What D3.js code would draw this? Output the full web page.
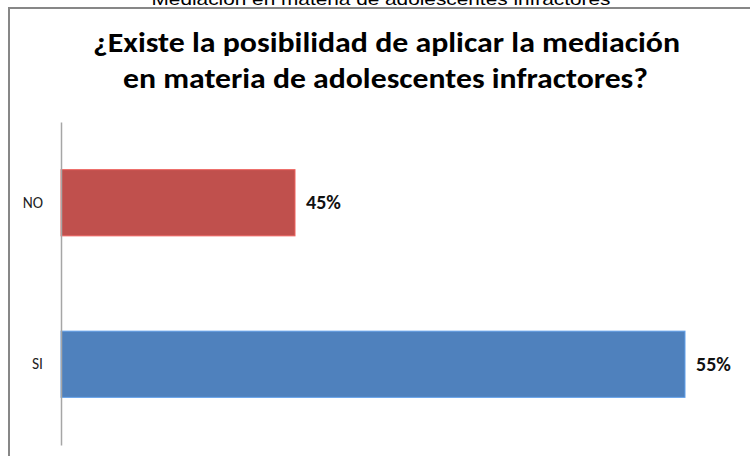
<!DOCTYPE html>
<html><head><meta charset="utf-8">
<script src="https://cdn.jsdelivr.net/npm/d3@7"></script>
<style>body{margin:0;background:#fff}svg{display:block}</style>
</head><body>
<svg id="c" width="750" height="456"></svg>
<script>
const categories = ["NO", "SI"];
const values = [45, 55];
const labels = ["45%", "55%"];
const colors = ["#C0504D", "#4F81BD"];
const outerTitle = "Mediación en materia de adolescentes infractores";
const titleLines = ["¿Existe la posibilidad de aplicar la mediación", "en materia de adolescentes infractores?"];

const svg = d3.select("#c");
// outer caption (clipped at top)
svg.append("text").attr("x", 381).attr("y", 5).attr("text-anchor", "middle")
  .attr("font-family", "'Liberation Sans', Arial, sans-serif").attr("font-size", 17)
  .attr("textLength", 459).attr("lengthAdjust", "spacingAndGlyphs")
  .attr("fill", "#000").text(outerTitle);

// frame
svg.append("path").attr("d", "M9,457 V8 H751").attr("fill", "none")
  .attr("stroke", "#878787").attr("stroke-width", 2);

// title
const tl = [{x: 93, y: 52, w: 587}, {x: 123, y: 88, w: 525}];
titleLines.forEach((t, i) => {
  svg.append("text").attr("x", tl[i].x).attr("y", tl[i].y)
    .attr("font-family", "Carlito, 'Open Sans', sans-serif").attr("font-weight", "bold")
    .attr("font-size", 29).attr("textLength", tl[i].w).attr("lengthAdjust", "spacingAndGlyphs")
    .attr("fill", "#000").text(t);
});

const x = d3.scaleLinear().domain([39, 56]).range([61, 724]);
const y = d3.scaleBand().domain(categories).range([122, 445]).paddingInner(0.59).paddingOuter(0.295);

const data = categories.map((c, i) => ({c, v: values[i], l: labels[i], col: colors[i]}));

svg.selectAll("rect.bar").data(data).enter().append("rect").attr("class", "bar")
  .attr("x", x(39)).attr("y", d => y(d.c))
  .attr("width", d => x(d.v) - x(39)).attr("height", y.bandwidth())
  .attr("fill", d => d.col)
  .attr("stroke", d => d3.color(d.col).brighter(0.6)).attr("stroke-width", 1);

// axis
const ax = svg.append("g").attr("transform", `translate(${x(39)},0)`)
  .call(d3.axisLeft(y).tickSize(0).tickPadding(18));
ax.select(".domain").attr("stroke", "#A6A6A6").attr("stroke-width", 1.5);
ax.selectAll("text").attr("font-family", "Carlito, 'Open Sans', sans-serif")
  .style("font-size", "15.5px").attr("fill", "#222").attr("dy", "0.32em");

// value labels
svg.selectAll("text.val").data(data).enter().append("text").attr("class", "val")
  .attr("x", d => x(d.v) + 11).attr("y", d => y(d.c) + y.bandwidth() / 2)
  .attr("dy", "0.33em")
  .attr("font-family", "Carlito, 'Open Sans', sans-serif")
  .attr("font-weight", (d, i) => i === 0 ? "bold" : 600)
  .style("font-size", "20px").attr("fill", "#111").text(d => d.l);
</script>
</body></html>
